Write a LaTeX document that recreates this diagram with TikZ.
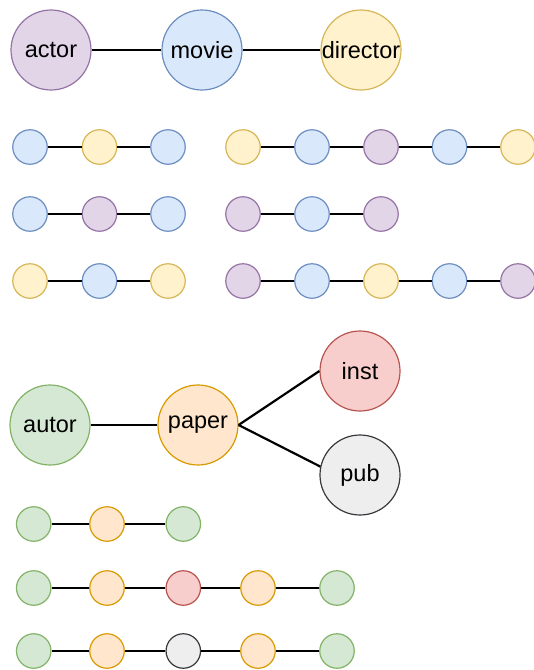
\documentclass[tikz,border=0pt]{standalone}
\usepackage{fontspec}
\setmainfont{Liberation Sans}
\definecolor{puF}{HTML}{E1D5E7}\definecolor{puD}{HTML}{9673A6}
\definecolor{blF}{HTML}{DAE8FC}\definecolor{blD}{HTML}{6C8EBF}
\definecolor{yeF}{HTML}{FFF2CC}\definecolor{yeD}{HTML}{D6B656}
\definecolor{grF}{HTML}{D5E8D4}\definecolor{grD}{HTML}{82B366}
\definecolor{orF}{HTML}{FFE6CC}\definecolor{orD}{HTML}{D79B00}
\definecolor{reF}{HTML}{F8CECC}\definecolor{reD}{HTML}{B85450}
\definecolor{gyF}{HTML}{EEEEEE}\definecolor{gyD}{HTML}{36393D}
\tikzset{
  big/.style={circle, minimum size=80pt, inner sep=0pt, line width=1.2pt, font=\fontsize{23.5}{28}\selectfont},
  sml/.style={circle, minimum size=34.5pt, inner sep=0pt, line width=1.2pt},
  pu/.style={fill=puF, draw=puD},
  bl/.style={fill=blF, draw=blD},
  ye/.style={fill=yeF, draw=yeD},
  gr/.style={fill=grF, draw=grD},
  or/.style={fill=orF, draw=orD},
  re/.style={fill=reF, draw=reD},
  gy/.style={fill=gyF, draw=gyD},
  link/.style={line width=2.2pt, black}
}
\begin{document}
\begin{tikzpicture}[x=1pt,y=-1pt]
\useasboundingbox (0,0) rectangle (534,670);
% top
\node[big,pu] (actor) at (51,50) {\makebox[0pt]{actor}};
\node[big,bl] (movie) at (202,50) {\makebox[0pt]{movie}};
\node[big,ye] (director) at (361,50) {\makebox[0pt]{director}};
\draw[link] (actor) -- (movie);
\draw[link] (movie) -- (director);
% left rows
\node[sml,bl] (a1) at (30,147) {};
\node[sml,ye] (a2) at (99.5,147) {};
\node[sml,bl] (a3) at (168,147) {};
\draw[link] (a1) -- (a2); \draw[link] (a2) -- (a3);
\node[sml,bl] (b1) at (30,214) {};
\node[sml,pu] (b2) at (99.5,214) {};
\node[sml,bl] (b3) at (168,214) {};
\draw[link] (b1) -- (b2); \draw[link] (b2) -- (b3);
\node[sml,ye] (c1) at (30,281) {};
\node[sml,bl] (c2) at (99.5,281) {};
\node[sml,ye] (c3) at (168,281) {};
\draw[link] (c1) -- (c2); \draw[link] (c2) -- (c3);
% right rows
\node[sml,ye] (d1) at (243,147) {};
\node[sml,bl] (d2) at (312,147) {};
\node[sml,pu] (d3) at (381,147) {};
\node[sml,bl] (d4) at (449.5,147) {};
\node[sml,ye] (d5) at (518,147) {};
\draw[link] (d1) -- (d2); \draw[link] (d2) -- (d3); \draw[link] (d3) -- (d4); \draw[link] (d4) -- (d5);
\node[sml,pu] (e1) at (243,214) {};
\node[sml,bl] (e2) at (312,214) {};
\node[sml,pu] (e3) at (381,214) {};
\draw[link] (e1) -- (e2); \draw[link] (e2) -- (e3);
\node[sml,pu] (f1) at (243,281) {};
\node[sml,bl] (f2) at (312,281) {};
\node[sml,ye] (f3) at (381,281) {};
\node[sml,bl] (f4) at (449.5,281) {};
\node[sml,pu] (f5) at (518,281) {};
\draw[link] (f1) -- (f2); \draw[link] (f2) -- (f3); \draw[link] (f3) -- (f4); \draw[link] (f4) -- (f5);
% second graph
\node[big,gr] (autor) at (50,425) {\makebox[0pt]{autor}};
\node[big,or] (paper) at (198,425) {\makebox[0pt]{paper}};
\node[big,re] (inst) at (360,371) {\makebox[0pt]{inst}};
\node[big,gy] (pub) at (360,475) {\makebox[0pt]{pub}};
\draw[link] (autor) -- (paper);
\draw[link] (paper.east) -- (inst.west);
\draw[link] (paper.east) -- (pub.168);
% bottom rows
\node[sml,gr] (g1) at (33.7,524) {};
\node[sml,or] (g2) at (107,524) {};
\node[sml,gr] (g3) at (183.3,524) {};
\draw[link] (g1) -- (g2); \draw[link] (g2) -- (g3);
\node[sml,gr] (h1) at (33.7,588) {};
\node[sml,or] (h2) at (107,588) {};
\node[sml,re] (h3) at (183.3,588) {};
\node[sml,or] (h4) at (258,588) {};
\node[sml,gr] (h5) at (337,588) {};
\draw[link] (h1) -- (h2); \draw[link] (h2) -- (h3); \draw[link] (h3) -- (h4); \draw[link] (h4) -- (h5);
\node[sml,gr] (k1) at (33.7,651) {};
\node[sml,or] (k2) at (107,651) {};
\node[sml,gy] (k3) at (183.3,651) {};
\node[sml,or] (k4) at (258,651) {};
\node[sml,gr] (k5) at (337,651) {};
\draw[link] (k1) -- (k2); \draw[link] (k2) -- (k3); \draw[link] (k3) -- (k4); \draw[link] (k4) -- (k5);
\end{tikzpicture}
\end{document}
